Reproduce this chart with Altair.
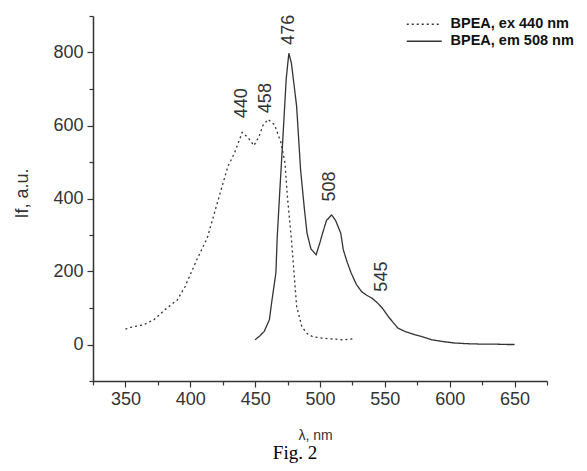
import altair as alt
import pandas as pd

# Excitation spectrum (dotted)
ex_wl = [350, 354, 364, 372, 382, 390, 396, 405, 413, 421, 429, 434, 440, 445, 449,
         453, 456, 460, 465, 470, 473, 475, 478, 482, 486, 490, 494, 500, 510, 517, 522, 526]
ex_if = [42, 47, 54, 68, 100, 122, 159, 232, 291, 390, 488, 524, 581, 565, 545,
         570, 600, 617, 602, 552, 497, 400, 287, 104, 49, 30, 22, 18, 15, 13, 14, 16]

# Emission spectrum (solid)
em_wl = [450, 454, 457, 461, 463, 466, 467, 469, 471, 474, 476, 478, 482, 485, 488, 490,
         493, 497, 500, 502, 505, 509, 512, 516, 518, 521, 524, 528, 532, 536, 540, 544,
         548, 553, 560, 566, 573, 580, 586, 595, 604, 615, 625, 635, 645, 650]
em_if = [13, 25, 36, 68, 122, 196, 292, 420, 542, 730, 798, 770, 652, 480, 370, 305,
         262, 246, 280, 305, 340, 355, 340, 305, 259, 225, 196, 165, 145, 135, 127, 115,
         100, 75, 45, 35, 27, 20, 13, 8, 4, 2, 1, 1, 0, 0]

series_names = ["BPEA, ex 440 nm", "BPEA, em 508 nm"]

# Peak annotations
ann_text = ["440", "458", "476", "508", "545"]
ann_x = [440, 458, 476, 508, 548]
ann_y = [661, 675, 862, 433, 186]

x_major = [350, 400, 450, 500, 550, 600, 650]
x_minor = [325, 375, 425, 475, 525, 575, 625, 675]
y_major = [0, 200, 400, 600, 800]
y_minor = [-100, 100, 300, 500, 700, 900]

df = pd.concat([
    pd.DataFrame({"wl": ex_wl, "If": ex_if, "series": series_names[0], "order": range(len(ex_wl))}),
    pd.DataFrame({"wl": em_wl, "If": em_if, "series": series_names[1], "order": range(len(em_wl))}),
])
ann = pd.DataFrame({"t": ann_text, "wl": ann_x, "If": ann_y})

FONT = "Liberation Sans"
INK = "#333333"

xs = alt.Scale(domain=[325, 675], nice=False, zero=False)
ys = alt.Scale(domain=[-100, 900], nice=False, zero=False)

lines = alt.Chart(df).mark_line(strokeWidth=1.3, color=INK).encode(
    x=alt.X("wl:Q", scale=xs,
            axis=alt.Axis(title="λ, nm", orient="bottom", values=x_major, tickSize=6,
                          labelOverlap=False, labelPadding=3,
                          titleX=222, titleY=54, titleAlign="center", titleBaseline="middle",
                          titleFontSize=14, titleFontWeight="normal")),
    y=alt.Y("If:Q", scale=ys,
            axis=alt.Axis(title="If, a.u.", orient="left", values=y_major, tickSize=6,
                          labelOverlap=False, labelPadding=4,
                          titleX=-71, titleY=177, titleAngle=270, titleAlign="center",
                          titleBaseline="middle", titleFontSize=18, titleFontWeight="normal")),
    order="order:Q",
    strokeDash=alt.StrokeDash("series:N",
        scale=alt.Scale(domain=series_names, range=[[2, 3], [1, 0]]),
        legend=alt.Legend(title=None, orient="none", legendX=324, legendY=1,
                          symbolType="M-3,0H3", symbolSize=136, symbolStrokeWidth=1.3,
                          symbolStrokeColor=INK, symbolFillColor="transparent",
                          labelFont=FONT, labelFontSize=14.5, labelFontWeight="bold",
                          labelColor="#111111", labelOffset=19, rowPadding=2, padding=0,
                          labelLimit=300)),
)

labels = alt.Chart(ann).mark_text(angle=270, align="center", baseline="middle",
                                  font=FONT, fontSize=18, color=INK).encode(
    x=alt.X("wl:Q", scale=xs,
            axis=alt.Axis(title=None, orient="bottom", values=x_minor, tickSize=4,
                          labels=False, domain=False)),
    y=alt.Y("If:Q", scale=ys,
            axis=alt.Axis(title=None, orient="left", values=y_minor, tickSize=4,
                          labels=False, domain=False)),
    text="t:N")

chart = alt.layer(lines, labels).resolve_axis(x="independent", y="independent").properties(
    width=454, height=365,
    autosize=alt.AutoSizeParams(type="none"),
    padding={"left": 85, "top": 8, "right": 32, "bottom": 82},
    title=alt.TitleParams("Fig. 2", orient="bottom", anchor="middle", font="Liberation Serif",
                          fontSize=19, fontWeight="normal", color="#000000", dx=-25, offset=2),
).configure_view(stroke=None).configure_axis(
    grid=False, domainColor=INK, domainWidth=1.5, tickColor=INK, tickWidth=1.2,
    labelFont=FONT, labelFontSize=18, labelColor=INK, titleFont=FONT, titleColor=INK,
)

chart.save("out.html", embed_options={"renderer": "svg", "actions": False})
